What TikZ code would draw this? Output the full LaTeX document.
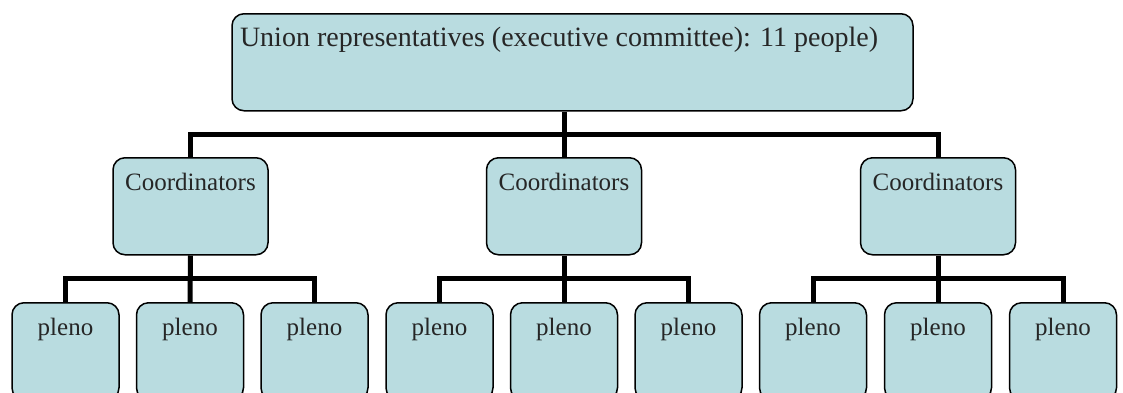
\documentclass[tikz,border=0pt]{standalone}
\usepackage{fontspec}
\setmainfont{Liberation Serif}
\definecolor{boxfill}{RGB}{185,220,224}
\definecolor{txtgray}{RGB}{38,38,38}

\begin{document}
\begin{tikzpicture}[x=1pt, y=-1pt,
    every node/.style={draw, line width=1.5pt, rounded corners=12pt, fill=boxfill, text=txtgray,
      font=\fontsize{25}{30}\selectfont, anchor=north, inner sep=0pt, text height=33pt, text depth=64pt},
    coordbox/.style={minimum width=155pt},
    plenobox/.style={minimum width=107pt},
    tree/.style={line width=5pt}]
    \useasboundingbox (0,0) rectangle (1123,392);

    \node[text width=665pt, inner xsep=8pt, align=flush left, font=\fontsize{28}{32}\selectfont] (U) at (572.5, 13) {Union representatives (executive committee): 11 people)};

    \node[coordbox] (C1) at (190.5, 157) {Coordinators};
    \node[coordbox] (C2) at (564, 157) {Coordinators};
    \node[coordbox] (C3) at (938, 157) {Coordinators};

    \node[plenobox] (P1) at (65.5, 302) {pleno};
    \node[plenobox] (P2) at (190, 302) {pleno};
    \node[plenobox] (P3) at (314.5, 302) {pleno};
    \node[plenobox] (P4) at (439.5, 302) {pleno};
    \node[plenobox] (P5) at (564, 302) {pleno};
    \node[plenobox] (P6) at (688.5, 302) {pleno};
    \node[plenobox] (P7) at (813, 302) {pleno};
    \node[plenobox] (P8) at (938, 302) {pleno};
    \node[plenobox] (P9) at (1063, 302) {pleno};

    % bars
    \coordinate (barU) at (564, 134);
    \coordinate (barA) at (190, 278);
    \coordinate (barB) at (564, 278);
    \coordinate (barC) at (938, 278);

    \draw[tree] (U.south -| C2.north) -- (C2.north);
    \draw[tree] (C1.north) -- (C1.north |- barU) -- (C3.north |- barU) -- (C3.north);

    \draw[tree] (C1.south) -- (P2.north);
    \draw[tree] (P1.north) -- (P1.north |- barA) -- (P3.north |- barA) -- (P3.north);
    \draw[tree] (C2.south) -- (P5.north);
    \draw[tree] (P4.north) -- (P4.north |- barB) -- (P6.north |- barB) -- (P6.north);
    \draw[tree] (C3.south) -- (P8.north);
    \draw[tree] (P7.north) -- (P7.north |- barC) -- (P9.north |- barC) -- (P9.north);
\end{tikzpicture}
\end{document}
